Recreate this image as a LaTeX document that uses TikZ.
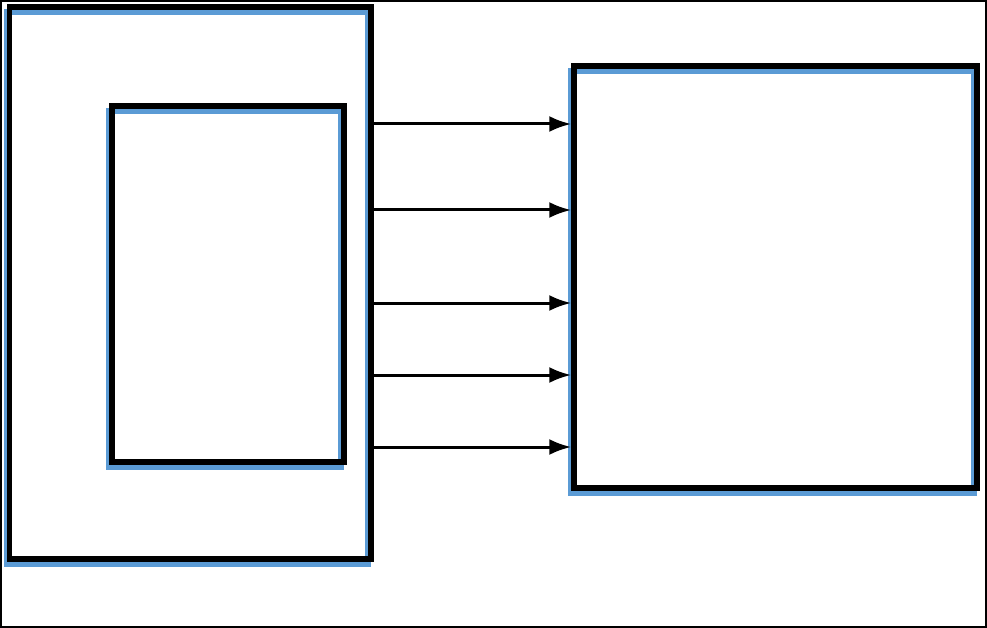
\documentclass[tikz,border=0pt]{standalone}
\usetikzlibrary{arrows.meta,fit}
\definecolor{boxblue}{HTML}{5B9BD5}

\begin{document}
\begin{tikzpicture}[x=0.02cm,y=-0.02cm,
    box/.style={draw=black,line width=0.11cm,inner sep=0pt,
        preaction={draw=boxblue,line width=0.11cm,transform canvas={shift={(-0.06cm,-0.1cm)}}}},
    link/.style={line width=0.06cm,-{Latex[length=0.44cm,width=0.32cm]}}]
        \useasboundingbox (0,0) rectangle (987,628);
        \draw[line width=0.035cm] (1,1) rectangle (986,627);
        \node[box,fit={(9.5,7)(371,559)}] (outer) {};
        \node[box,fit={(112,106)(344,462)}] (inner) {};
        \node[box,fit={(574,66)(977,488)}] (target) {};
        \draw [link] (outer.east |- 0,124) -- (target.west |- 0,124);
        \draw [link] (outer.east |- 0,210) -- (target.west |- 0,210);
        \draw [link] (outer.east |- 0,303) -- (target.west |- 0,303);
        \draw [link] (outer.east |- 0,375) -- (target.west |- 0,375);
        \draw [link] (outer.east |- 0,447) -- (target.west |- 0,447);
    \end{tikzpicture}
\end{document}
